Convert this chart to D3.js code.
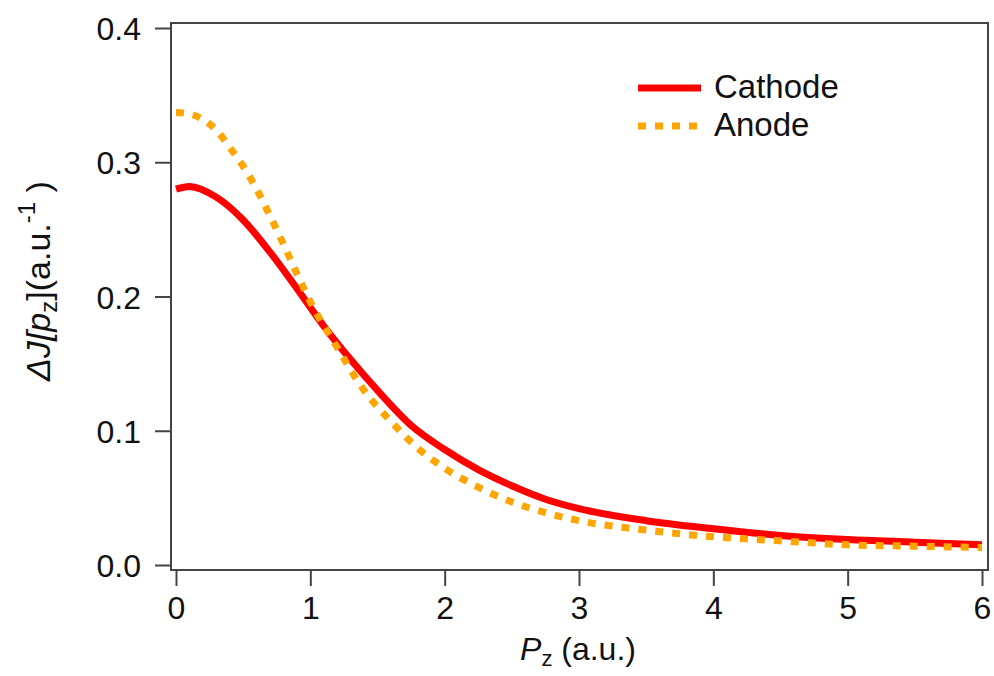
<!DOCTYPE html>
<html>
<head>
<meta charset="utf-8">
<script src="https://cdn.jsdelivr.net/npm/d3@7"></script>
<style>
  body { margin: 0; background: #fff; }
  svg text { font-family: "Liberation Sans", Arial, sans-serif; fill: #111; }
</style>
</head>
<body>
<div id="chart"></div>
<script>
// values
var cathodeX = [0, 0.1, 0.3, 0.5, 0.7, 0.9, 1.1, 1.3, 1.5, 1.75, 2.0, 2.25, 2.5, 2.75, 3.0, 3.5, 4.0, 4.5, 5.0, 5.5, 6.0];
var cathodeY = [0.280, 0.282, 0.274, 0.257, 0.233, 0.206, 0.178, 0.153, 0.130, 0.104, 0.086, 0.071, 0.059, 0.049, 0.042, 0.033, 0.027, 0.022, 0.019, 0.017, 0.015];

var anodeX = [0, 0.1, 0.2, 0.3, 0.4, 0.5, 0.6, 0.7, 0.8, 0.9, 1.0, 1.2, 1.4, 1.6, 1.8, 2.0, 2.25, 2.5, 2.75, 3.0, 3.5, 4.0, 4.5, 5.0, 5.5, 6.0];
var anodeY = [0.337, 0.336, 0.332, 0.324, 0.311, 0.297, 0.280, 0.260, 0.239, 0.217, 0.196, 0.162, 0.130, 0.107, 0.087, 0.072, 0.058, 0.047, 0.039, 0.033, 0.026, 0.021, 0.018, 0.015, 0.014, 0.013];

var xTicks = [0, 1, 2, 3, 4, 5, 6];
var yTicks = [0, 0.1, 0.2, 0.3, 0.4];
var seriesNames = ["Cathode", "Anode"];

var width = 994, height = 676;

var svg = d3.select("#chart").append("svg")
    .attr("width", width).attr("height", height);

var x = d3.scaleLinear().domain([0, 6]).range([176, 982]);
var y = d3.scaleLinear().domain([0, 0.4]).range([565, 28]);

// frame (offset a little from the data range)
svg.append("rect")
    .attr("x", 171).attr("y", 23)
    .attr("width", 988 - 171).attr("height", 570 - 23)
    .attr("fill", "none")
    .attr("stroke", "#444")
    .attr("stroke-width", 2);

var xAxis = svg.append("g")
    .attr("transform", "translate(0,570)")
    .call(d3.axisBottom(x).tickValues(xTicks).tickSize(16).tickPadding(10).tickFormat(d3.format("d")));

var yAxis = svg.append("g")
    .attr("transform", "translate(171,0)")
    .call(d3.axisLeft(y).tickValues(yTicks).tickSize(16).tickPadding(14).tickFormat(d3.format(".1f")));

[xAxis, yAxis].forEach(function(a){
    a.select(".domain").remove();
    a.selectAll("line").attr("stroke", "#444").attr("stroke-width", 2);
    a.selectAll("text").attr("font-size", 32).attr("font-family", "Liberation Sans, Arial, sans-serif").attr("fill", "#111");
});
yAxis.selectAll("text").attr("dy", "0.36em");

var line = d3.line()
    .x(function(d){ return x(d[0]); })
    .y(function(d){ return y(d[1]); })
    .curve(d3.curveMonotoneX);

var cathode = d3.zip(cathodeX, cathodeY);
var anode = d3.zip(anodeX, anodeY);

svg.append("path")
    .datum(cathode)
    .attr("d", line)
    .attr("fill", "none")
    .attr("stroke", "#ff0000")
    .attr("stroke-width", 7);

svg.append("path")
    .datum(anode)
    .attr("d", line)
    .attr("fill", "none")
    .attr("stroke", "#ffa500")
    .attr("stroke-width", 7)
    .attr("stroke-dasharray", "8,9");

// legend
var legend = svg.append("g");
var styles = [
    {color: "#ff0000", dash: null, y: 88},
    {color: "#ffa500", dash: "8,9", y: 126}
];
seriesNames.forEach(function(name, i){
    var s = styles[i];
    legend.append("line")
        .attr("x1", 638).attr("x2", 701)
        .attr("y1", s.y).attr("y2", s.y)
        .attr("stroke", s.color)
        .attr("stroke-width", 7)
        .attr("stroke-dasharray", s.dash);
    legend.append("text")
        .attr("x", 714).attr("y", s.y + 10)
        .attr("font-size", 33)
        .text(name);
});

// axis titles
var xt = svg.append("text")
    .attr("x", 578).attr("y", 660)
    .attr("text-anchor", "middle")
    .attr("font-size", 32);
xt.append("tspan").attr("font-style", "italic").text("P");
xt.append("tspan").attr("font-size", 22).attr("dy", 6).text("z");
xt.append("tspan").attr("dy", -6).text(" (a.u.)");

var yt = svg.append("text")
    .attr("transform", "translate(50,281) rotate(-90)")
    .attr("text-anchor", "middle")
    .attr("font-size", 34);
yt.append("tspan").attr("font-style", "italic").text("ΔJ[p");
yt.append("tspan").attr("font-size", 24).attr("dy", 7).text("z");
yt.append("tspan").attr("dy", -7).text("](a.u.");
yt.append("tspan").attr("font-size", 24).attr("dy", -15).text("-1");
yt.append("tspan").attr("dy", 15).text(" )");
</script>
</body>
</html>
